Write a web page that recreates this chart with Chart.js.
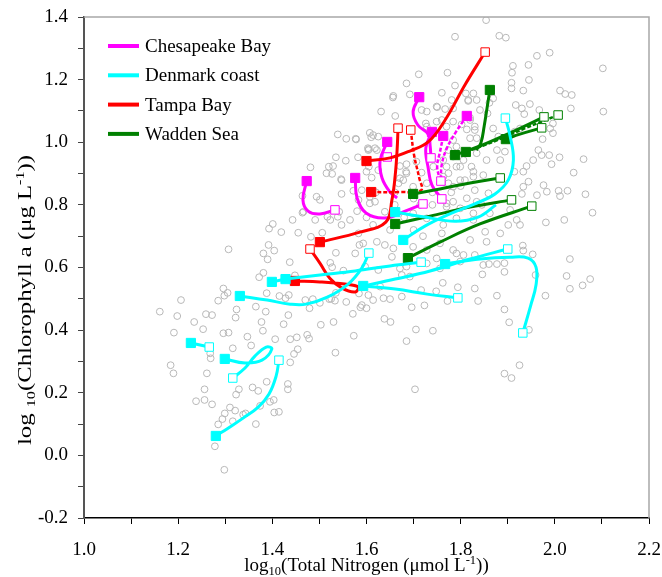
<!DOCTYPE html>
<html lang="en">
<head>
<meta charset="utf-8"/>
<title>Chlorophyll a vs Total Nitrogen</title>
<script src="https://cdn.jsdelivr.net/npm/chart.js"></script>
<style>
  body { margin: 0; background: #fff; }
  #wrap { width: 662px; height: 577px; position: relative; }
</style>
</head>
<body>
<div id="wrap"><canvas id="grafico"></canvas></div>
<script>
  // all observations (log10 TN, log10 Chl a), grey open circles
  const observations = [
    [2.080,0.775],[2.020,0.752],[1.981,0.744],[2.032,0.627],[2.025,0.573],[2.032,0.532],[2.059,0.543],[2.075,0.563],
    [1.980,0.510],[1.959,0.576],[1.932,0.670],[1.933,0.654],[1.953,0.642],[1.893,0.586],[1.877,0.510],[1.893,0.466],
    [1.903,0.425],[1.945,0.401],[1.925,0.288],[1.893,0.261],[1.908,0.247],[1.703,0.211],[1.685,0.365],[1.705,0.402],
    [1.741,0.398],[1.638,0.436],[1.651,0.426],[1.696,0.473],[1.723,0.479],[1.772,0.493],[1.837,0.493],[1.830,0.533],
    [1.794,0.537],[1.748,0.524],[1.716,0.528],[1.762,0.551],[1.846,0.578],[1.893,0.614],[1.877,0.611],[1.860,0.611],
    [1.161,0.459],[1.198,0.445],[1.206,0.496],[1.191,0.392],[1.184,0.288],[1.190,0.262],[1.234,0.426],[1.253,0.403],
    [1.259,0.451],[1.272,0.448],[1.285,0.494],[1.298,0.510],[1.296,0.533],[1.305,0.519],[1.324,0.466],[1.322,0.440],
    [1.307,0.658],[1.296,0.390],[1.307,0.392],[1.268,0.326],[1.269,0.310],[1.261,0.262],[1.316,0.342],[1.347,0.379],
    [1.355,0.351],[1.377,0.426],[1.380,0.398],[1.365,0.475],[1.386,0.459],[1.388,0.518],[1.406,0.371],[1.424,0.419],
    [1.434,0.448],[1.415,0.509],[1.428,0.502],[1.435,0.512],[1.438,0.371],[1.452,0.377],[1.454,0.339],[1.446,0.324],
    [1.438,0.297],[1.474,0.385],[1.478,0.373],[1.503,0.417],[1.530,0.426],[1.534,0.328],[1.573,0.382],[1.571,0.452],
    [1.470,0.496],[1.486,0.499],[1.501,0.487],[1.479,0.470],[1.521,0.499],[1.533,0.494],[1.557,0.490],[1.587,0.473],
    [1.590,0.480],[1.443,0.752],[1.401,0.739],[1.393,0.724],[1.419,0.713],[1.455,0.711],[1.482,0.698],[1.506,0.711],
    [1.392,0.672],[1.381,0.645],[1.404,0.654],[1.390,0.626],[1.437,0.617],[1.381,0.583],[1.372,0.569],[1.448,0.575],
    [1.535,0.647],[1.523,0.615],[1.527,0.601],[1.551,0.590],[1.576,0.645],[1.535,0.519],[1.525,0.500],[1.584,0.517],
    [1.585,0.672],[1.583,0.709],[1.565,0.752],[1.523,0.752],[1.491,0.752],[1.466,0.778],[1.547,0.736],[1.539,0.762],
    [1.256,0.211],[1.238,0.173],[1.256,0.177],[1.272,0.163],[1.278,0.029],[1.298,-0.046],[1.285,0.099],[1.294,0.116],
    [1.299,0.134],[1.310,0.153],[1.321,0.143],[1.316,0.109],[1.323,0.194],[1.329,0.211],[1.338,0.130],[1.343,0.134],
    [1.358,0.217],[1.370,0.206],[1.365,0.100],[1.374,0.158],[1.395,0.171],[1.403,0.177],[1.404,0.137],[1.414,0.139],
    [1.433,0.228],[1.433,0.211],[1.388,0.235],
    [1.539,1.025],[1.557,1.011],[1.577,1.011],[1.535,0.952],[1.520,0.922],[1.481,0.920],[1.515,0.901],[1.527,0.899],
    [1.556,0.941],[1.582,0.952],[1.547,0.879],[1.547,0.835],[1.501,0.816],[1.494,0.826],[1.464,0.829],[1.464,0.775],
    [1.517,0.762],[1.542,0.778],[1.572,0.845],[1.583,0.816],[1.605,0.978],[1.605,0.922],
    [1.772,1.222],[1.711,1.217],[1.685,1.188],[1.692,1.153],[1.656,1.143],[1.661,1.084],[1.631,1.098],[1.607,1.030],
    [1.610,1.016],[1.625,1.018],[1.578,1.009],[1.603,0.981],[1.622,0.975],[1.529,0.924],[1.546,0.882],[1.611,0.887],
    [1.671,0.924],[1.685,0.930],[1.684,0.906],[1.706,0.938],[1.717,0.903],[1.717,1.103],[1.728,1.098],[1.750,1.112],
    [1.767,1.106],[1.760,1.158],[1.788,1.181],[1.781,1.135],[1.784,1.108],[1.726,1.060],[1.728,1.050],[1.749,1.066],
    [1.760,1.071],[1.784,1.066],[1.802,1.057],[1.816,1.132],[1.827,1.156],[1.811,1.156],[1.820,1.071],[1.813,1.041],
    [1.830,1.039],[1.820,1.013],[1.834,1.013],[1.784,1.007],[1.791,0.986],[1.774,0.975],[1.742,0.922],[1.770,0.922],
    [1.791,0.922],[1.806,0.943],[1.823,0.922],[1.827,0.906],[1.774,0.869],[1.784,0.858],[1.809,0.879],[1.699,0.858],
    [1.668,0.869],[1.671,0.885],[1.728,0.869],
    [1.854,1.390],[1.788,1.337],[1.882,1.340],[1.896,1.334],[1.962,1.276],[1.989,1.286],[2.102,1.236],[2.103,1.098],
    [1.911,1.244],[1.909,1.222],[1.944,1.247],[1.945,1.199],[1.908,1.190],[1.908,1.172],[1.933,1.165],[2.011,1.165],
    [2.022,1.154],[2.036,1.151],[2.034,1.108],[1.947,1.122],[1.917,1.119],[1.930,1.108],[1.935,1.090],[1.967,1.103],
    [1.996,1.060],[1.990,1.044],[1.996,1.029],[1.974,1.010],[1.915,1.034],[1.926,1.044],[1.965,0.975],[1.972,0.959],
    [1.954,0.943],[1.988,0.959],[2.010,0.952],[1.993,0.930],[2.040,0.903],[2.061,0.946],[2.008,0.845],[2.027,0.845],
    [1.976,0.863],[1.983,0.842],[1.944,0.874],[1.933,0.858],[1.930,0.835],[1.962,0.831],[1.933,0.906],[1.914,0.906],
    [1.940,0.924],[2.065,0.834],[2.011,0.828],[1.861,1.126],[1.869,1.140],[1.841,1.103],[1.857,1.092],[1.834,1.135],
    [1.816,1.135],[1.820,1.078],[1.830,1.050],[1.869,1.044],[1.880,1.018],[1.877,0.975],[1.894,0.970],[1.884,0.943],
    [1.855,0.943],[1.834,0.965],[1.827,0.890],[1.848,0.895],[1.859,0.837],[1.830,0.847],[1.834,0.810],[1.770,1.050],
    [1.749,1.114],[1.657,1.148],[1.614,1.023],[1.604,0.975],[1.618,0.981],[1.625,0.911],[1.600,0.906],[1.590,0.847],
    [1.607,0.826],[1.618,0.810],[1.678,0.879],[1.685,0.901],[1.774,0.901],[1.799,0.879],[1.784,0.954],[1.763,0.943],
    [1.799,0.922],[1.763,0.890],[1.813,0.821],[1.784,0.810],[1.770,0.794],[1.845,0.800],[1.827,0.773],
    [1.607,0.805],[1.639,0.778],[1.614,0.736],[1.593,0.677],[1.622,0.682],[1.639,0.672],[1.657,0.661],[1.654,0.634],
    [1.597,0.603],[1.625,0.592],[1.671,0.597],[1.675,0.576],[1.692,0.571],[1.685,0.603],[1.728,0.613],[1.749,0.629],
    [1.756,0.597],[1.699,0.666],[1.728,0.656],[1.756,0.677],[1.760,0.709],[1.784,0.656],[1.791,0.645],[1.806,0.640],
    [1.799,0.619],[1.830,0.640],[1.848,0.608],[1.820,0.688],[1.855,0.682],[1.852,0.714],[1.884,0.709],[1.827,0.752],
    [1.791,0.757],[1.763,0.736],[1.728,0.757],[1.699,0.773],[1.714,0.800],[1.770,0.805],[1.799,0.789],[1.862,0.773],
    [1.905,0.784],[1.919,0.752],[1.901,0.736],[1.926,0.736],[1.629,0.539],[1.604,0.512],[1.636,0.502],[1.650,0.499],
    [1.614,0.496],[1.600,0.470],[1.675,0.507],
    [1.580,0.780],[1.600,0.760],[1.660,0.800],[1.680,0.760],[1.650,0.720],[1.700,0.720],[1.720,0.700],[1.620,0.840],
    [1.660,0.840],[1.700,0.820],[1.740,0.800],[1.740,0.840],[1.780,0.840],[1.800,0.860]
  ];

  // trajectories per system, points in order along the curve
  const chesapeake = [
    [[1.473,0.876],[1.465,0.816],[1.476,0.780],[1.501,0.771],[1.533,0.784]],
    [[1.576,0.886],[1.580,0.822],[1.599,0.774],[1.639,0.758],[1.682,0.780],[1.720,0.803]],
    [[1.644,1.001],[1.629,0.943],[1.633,0.886],[1.650,0.841],[1.665,0.822]],
    [[1.644,0.953]],
    [[1.712,1.144],[1.699,1.097],[1.709,1.055],[1.731,1.026],[1.735,0.991],[1.737,0.950]],
    [[1.739,1.033],[1.726,0.982],[1.731,0.918],[1.739,0.863],[1.760,0.819]],
    [[1.763,1.020],[1.756,0.969],[1.750,0.924],[1.754,0.890]],
    [[1.813,1.084],[1.790,1.033],[1.771,0.982],[1.760,0.930],[1.758,0.876]]
  ];
  const chesapeakeEnds = ['FO', 'FO', 'F-', 'O-', 'FO', 'FO', 'F-', 'FO'];
  const chesapeakeDash = [0, 0, 0, 0, 0, 0, 1, 1];

  const denmark = [
    [[1.227,0.359],[1.266,0.346]],
    [[1.299,0.308],[1.342,0.295],[1.378,0.304],[1.399,0.340],[1.387,0.346],[1.363,0.317],[1.342,0.279],[1.316,0.247]],
    [[1.280,0.062],[1.306,0.087],[1.338,0.119],[1.370,0.154],[1.393,0.196],[1.408,0.253],[1.414,0.304]],
    [[1.331,0.509],[1.389,0.496],[1.438,0.483],[1.472,0.483],[1.518,0.506],[1.561,0.547],[1.590,0.598],[1.605,0.646]],
    [[1.399,0.554],[1.428,0.563]],
    [[1.428,0.563],[1.501,0.576],[1.576,0.589],[1.650,0.605],[1.716,0.617]],
    [[1.678,0.688],[1.724,0.732],[1.777,0.771],[1.830,0.803],[1.873,0.835],[1.901,0.879],[1.912,0.943],[1.905,1.020],[1.895,1.077]],
    [[1.661,0.777],[1.724,0.761],[1.788,0.748],[1.837,0.761],[1.875,0.800]],
    [[1.593,0.541],[1.661,0.563],[1.735,0.589],[1.820,0.627],[1.900,0.659]],
    [[1.767,0.611],[1.841,0.627],[1.905,0.633],[1.943,0.630],[1.960,0.601],[1.960,0.544],[1.949,0.480],[1.932,0.391]],
    [[1.593,0.541],[1.661,0.531],[1.729,0.515],[1.794,0.503]]
  ];
  const denmarkEnds = ['FO', 'FO', 'FO', 'FO', 'F-', 'FO', 'FO', 'F-', 'FO', 'FO', '-O'];
  const denmarkDash = [0, 0, 0, 0, 0, 0, 0, 0, 0, 0, 0];

  const tampa = [
    [[1.600,0.940],[1.650,0.950],[1.692,0.972],[1.731,1.001],[1.767,1.071],[1.809,1.183],[1.852,1.288]],
    [[1.501,0.681],[1.586,0.713],[1.641,0.745],[1.654,0.816],[1.661,0.895],[1.665,0.975],[1.667,1.045]],
    [[1.610,0.841],[1.671,0.841],[1.716,0.847],[1.712,0.886],[1.701,0.959],[1.694,1.039]],
    [[1.448,0.557],[1.501,0.554],[1.554,0.547],[1.582,0.538],[1.576,0.522],[1.548,0.534],[1.522,0.566],[1.501,0.614],[1.480,0.659]]
  ];
  const tampaEnds = ['FO', 'FO', 'FO', 'FO'];
  const tampaDash = [0, 0, 1, 0];

  const wadden = [
    [[1.862,1.167],[1.856,1.109],[1.850,1.052],[1.843,0.998],[1.833,0.975]],
    [[1.788,0.959],[1.841,0.988],[1.905,1.030],[1.977,1.081]],
    [[1.811,0.969],[1.873,1.004],[1.937,1.045],[2.007,1.087]],
    [[1.896,1.010],[1.926,1.026],[1.972,1.046]],
    [[1.699,0.835],[1.756,0.851],[1.820,0.870],[1.884,0.886]],
    [[1.661,0.739],[1.735,0.764],[1.820,0.793],[1.908,0.816]],
    [[1.688,0.630],[1.756,0.681],[1.841,0.739],[1.951,0.796]]
  ];
  const waddenEnds = ['F-', 'FO', 'FO', 'FO', 'FO', 'FO', 'FO'];
  const waddenDash = [0, 0, 1, 0, 0, 0, 0];

  const systemNames = ['Chesapeake Bay', 'Denmark coast', 'Tampa Bay', 'Wadden Sea'];
  const systemColors = ['#ff00ff', '#00ffff', '#ff0000', '#008000'];

  const SERIF = "'Liberation Serif', 'Times New Roman', serif";

  function trackSets(color, tracks, ends, dash) {
    return tracks.map((pts, i) => {
      const n = pts.length;
      const kind = j => (j === 0 ? ends[i][0] : (j === n - 1 ? ends[i][1] : '-'));
      return {
        label: '',
        data: pts.map(p => ({ x: p[0], y: p[1] })),
        showLine: true,
        borderColor: color,
        borderWidth: dash[i] ? 2.5 : 3,
        borderDash: dash[i] ? [4, 2] : [],
        tension: 0.4,
        pointStyle: 'rect',
        pointRadius: pts.map((_, j) => kind(j) === 'F' ? 6.5 : (kind(j) === 'O' ? 6 : 0)),
        pointHoverRadius: 0,
        pointBackgroundColor: pts.map((_, j) => kind(j) === 'F' ? color : '#ffffff'),
        pointBorderColor: color,
        pointBorderWidth: 1,
        order: 0
      };
    });
  }

  function drawRich(ctx, parts, size) {
    let total = 0;
    parts.forEach(p => {
      const s = p.sub || p.sup ? size * 0.66 : size;
      ctx.font = s + 'px ' + SERIF;
      p.w = ctx.measureText(p.t).width;
      total += p.w;
    });
    return total;
  }

  function paintRich(ctx, parts, size, x0, y0) {
    let x = x0;
    parts.forEach(p => {
      const s = p.sub || p.sup ? size * 0.66 : size;
      ctx.font = s + 'px ' + SERIF;
      const dy = p.sub ? size * 0.22 : (p.sup ? -size * 0.38 : 0);
      ctx.fillText(p.t, x, y0 + dy);
      x += p.w;
    });
  }

  const xTitle = [{ t: 'log' }, { t: '10', sub: true }, { t: '(Total Nitrogen (\u03bcmol L' }, { t: '-1', sup: true }, { t: '))' }];
  const yTitle = [{ t: 'log ' }, { t: '10', sub: true }, { t: '(Chlorophyll a (\u03bcg L' }, { t: '-1', sup: true }, { t: '))' }];

  const decorations = {
    id: 'decorations',
    afterDraw(chart) {
      const { ctx, chartArea: a } = chart;
      ctx.save();
      // light frame top / right
      ctx.strokeStyle = '#a8a8a8';
      ctx.lineWidth = 1.5;
      ctx.beginPath();
      ctx.moveTo(a.left, a.top);
      ctx.lineTo(a.right, a.top);
      ctx.lineTo(a.right, a.bottom);
      ctx.stroke();

      // legend inside plot
      ctx.textBaseline = 'middle';
      ctx.fillStyle = '#000';
      systemNames.forEach((name, i) => {
        const y = 46 + i * 29.3;
        ctx.strokeStyle = systemColors[i];
        ctx.lineWidth = 4;
        ctx.beginPath();
        ctx.moveTo(108, y);
        ctx.lineTo(139, y);
        ctx.stroke();
        ctx.font = '19px ' + SERIF;
        ctx.fillText(name, 145, y + 1);
      });

      // axis titles
      ctx.textBaseline = 'alphabetic';
      const wx = drawRich(ctx, xTitle, 19);
      paintRich(ctx, xTitle, 19, (a.left + a.right) / 2 - wx / 2, 571);

      const wy = drawRich(ctx, yTitle, 19);
      const target = 290;
      ctx.translate(31, 300);
      ctx.rotate(-Math.PI / 2);
      ctx.scale(target / wy, 1);
      paintRich(ctx, yTitle, 19, -wy / 2, 0);
      ctx.restore();
    }
  };

  const evenLabel = v => {
    const r = Math.round(v * 10);
    return r % 2 === 0 ? (r / 10).toFixed(1) : '';
  };

  new Chart(document.getElementById('grafico'), {
    type: 'scatter',
    data: {
      datasets: [
        ...trackSets(systemColors[1], denmark, denmarkEnds, denmarkDash),
        ...trackSets(systemColors[3], wadden, waddenEnds, waddenDash),
        ...trackSets(systemColors[2], tampa, tampaEnds, tampaDash),
        ...trackSets(systemColors[0], chesapeake, chesapeakeEnds, chesapeakeDash),
        {
          label: 'observations',
          data: observations.map(p => ({ x: p[0], y: p[1] })),
          pointStyle: 'circle',
          pointRadius: 3.4,
          pointHoverRadius: 3.4,
          pointBackgroundColor: 'rgba(0,0,0,0)',
          pointBorderColor: '#b8b8b8',
          pointBorderWidth: 1,
          showLine: false,
          order: 1
        }
      ]
    },
    options: {
      responsive: true,
      maintainAspectRatio: false,
      animation: false,
      layout: { padding: { top: 17, right: 13, left: 0, bottom: 0 } },
      plugins: { legend: { display: false }, tooltip: { enabled: false }, title: { display: false } },
      events: [],
      scales: {
        x: {
          type: 'linear',
          min: 1.0,
          max: 2.2,
          afterFit: s => { s.height = 59; s.paddingLeft = 0; s.paddingRight = 0; },
          border: { color: '#000', width: 1.5 },
          grid: { drawOnChartArea: false, tickLength: 6, color: '#000', tickWidth: 1 },
          ticks: {
            stepSize: 0.1,
            autoSkip: false,
            maxRotation: 0,
            padding: 15,
            color: '#000',
            font: { family: SERIF, size: 19 },
            callback: evenLabel
          }
        },
        y: {
          type: 'linear',
          min: -0.2,
          max: 1.4,
          afterFit: s => { s.width = 84; s.paddingTop = 0; s.paddingBottom = 0; },
          border: { color: '#555', width: 2 },
          grid: { drawOnChartArea: false, tickLength: 6, color: '#444', tickWidth: 1 },
          ticks: {
            stepSize: 0.1,
            autoSkip: false,
            padding: 10,
            color: '#000',
            font: { family: SERIF, size: 19 },
            callback: evenLabel
          }
        }
      }
    },
    plugins: [decorations]
  });
</script>
</body>
</html>
